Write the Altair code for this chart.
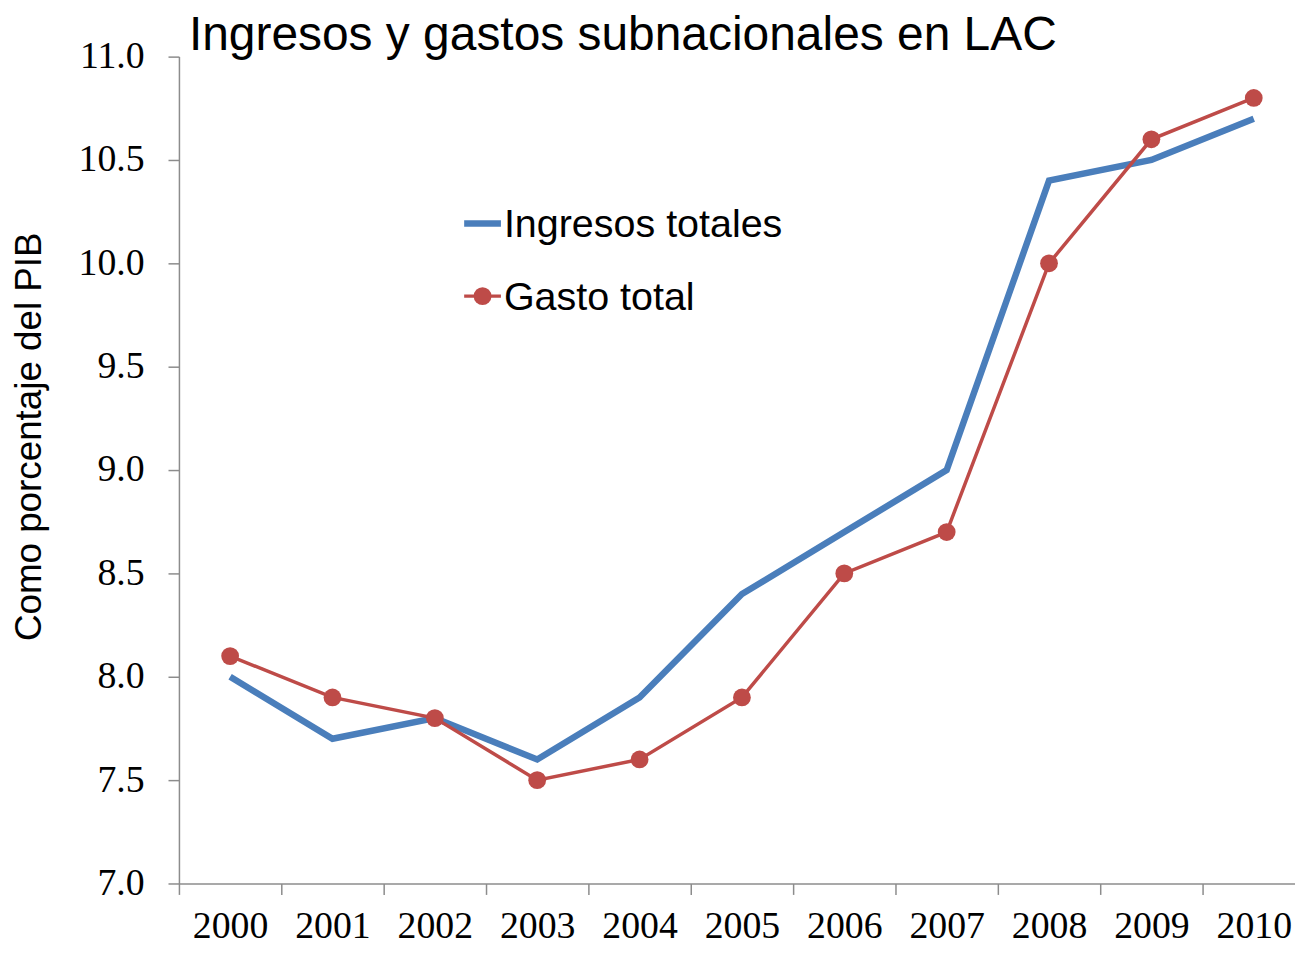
import altair as alt
import pandas as pd

years = ["2000", "2001", "2002", "2003", "2004", "2005", "2006", "2007", "2008", "2009", "2010"]
ingresos = [8.0, 7.7, 7.8, 7.6, 7.9, 8.4, 8.7, 9.0, 10.4, 10.5, 10.7]
gasto = [8.1, 7.9, 7.8, 7.5, 7.6, 7.9, 8.5, 8.7, 10.0, 10.6, 10.8]
series = ["Ingresos totales", "Gasto total"]
y_ticks = [7.0, 7.5, 8.0, 8.5, 9.0, 9.5, 10.0, 10.5, 11.0]
title_text = ["Ingresos y gastos subnacionales en LAC"]

BLUE = "#4A7EBB"
RED = "#BE4B48"
AXIS = "#8C8C8C"

df_ing = pd.DataFrame({"year": years, "value": ingresos, "serie": series[0]})
df_gas = pd.DataFrame({"year": years, "value": gasto, "serie": series[1]})

x_enc = alt.X(
    "year:O",
    bandPosition=0.5,
    scale=alt.Scale(type="band", paddingInner=0, paddingOuter=0, range=[0, 1133]),
    axis=alt.Axis(
        title=None,
        labelAngle=0,
        tickBand="extent",
        tickSize=11,
        tickColor=AXIS,
        domainColor=AXIS,
        domainWidth=1.5,
        tickWidth=1.5,
        labelFont="Liberation Serif",
        labelFontSize=38,
        labelColor="black",
        labelBaseline="alphabetic",
        labelPadding=43,
        grid=False,
    ),
)
y_enc = alt.Y(
    "value:Q",
    scale=alt.Scale(domain=[7, 11], nice=False, zero=False),
    axis=alt.Axis(
        title="Como porcentaje del PIB",
        titleFont="Liberation Sans",
        titleFontSize=37,
        titleFontWeight="normal",
        titleColor="black",
        titleAngle=-90,
        titleX=-150,
        titleY=382,
        titleAlign="center",
        titleBaseline="middle",
        values=y_ticks,
        format=".1f",
        tickSize=11,
        tickColor=AXIS,
        domainColor=AXIS,
        domainWidth=1.5,
        tickWidth=1.5,
        labelFont="Liberation Serif",
        labelFontSize=38,
        labelColor="black",
        labelPadding=24,
        grid=False,
    ),
)

line_ing = alt.Chart(df_ing).mark_line(color=BLUE, strokeWidth=6.5).encode(x=x_enc, y=y_enc)
line_gas = alt.Chart(df_gas).mark_line(color=RED, strokeWidth=3.5).encode(x=x_enc, y=y_enc)
pts_gas = alt.Chart(df_gas).mark_circle(color=RED, size=320, opacity=1).encode(x=x_enc, y=y_enc)

# legend
leg1 = pd.DataFrame({"s": [series[0]]})
leg2 = pd.DataFrame({"s": [series[1]]})
leg_line1 = alt.Chart(leg1).mark_rule(color=BLUE, strokeWidth=6.5).encode(
    x=alt.value(287), x2=alt.value(324), y=alt.value(168)
)
leg_line2 = alt.Chart(leg2).mark_rule(color=RED, strokeWidth=3.5).encode(
    x=alt.value(287), x2=alt.value(324), y=alt.value(241)
)
leg_pt2 = alt.Chart(leg2).mark_circle(color=RED, size=320, opacity=1).encode(
    x=alt.value(305.5), y=alt.value(241)
)
leg_txt1 = alt.Chart(leg1).mark_text(
    font="Liberation Sans", fontSize=39.7, align="left", baseline="middle", color="black"
).encode(text="s:N", x=alt.value(327), y=alt.value(170))
leg_txt2 = alt.Chart(leg2).mark_text(
    font="Liberation Sans", fontSize=39.7, align="left", baseline="middle", color="black"
).encode(text="s:N", x=alt.value(327), y=alt.value(243))

title_df = pd.DataFrame({"t": title_text})
title_mark = alt.Chart(title_df).mark_text(
    font="Liberation Sans", fontSize=48.2, align="left", baseline="alphabetic", color="black"
).encode(text="t:N", x=alt.value(10), y=alt.value(-7))

chart = (
    alt.layer(line_ing, line_gas, pts_gas, leg_line1, leg_line2, leg_pt2, leg_txt1, leg_txt2, title_mark)
    .properties(
        width=1123,
        height=832,
        background="white",
        padding={"left": 172, "top": 46, "right": 0, "bottom": 63},
        autosize=alt.AutoSizeParams(type="none"),
    )
    .configure_view(strokeWidth=0, stroke="transparent")
)

chart.save("out.html", embed_options={"renderer": "svg", "actions": False})
